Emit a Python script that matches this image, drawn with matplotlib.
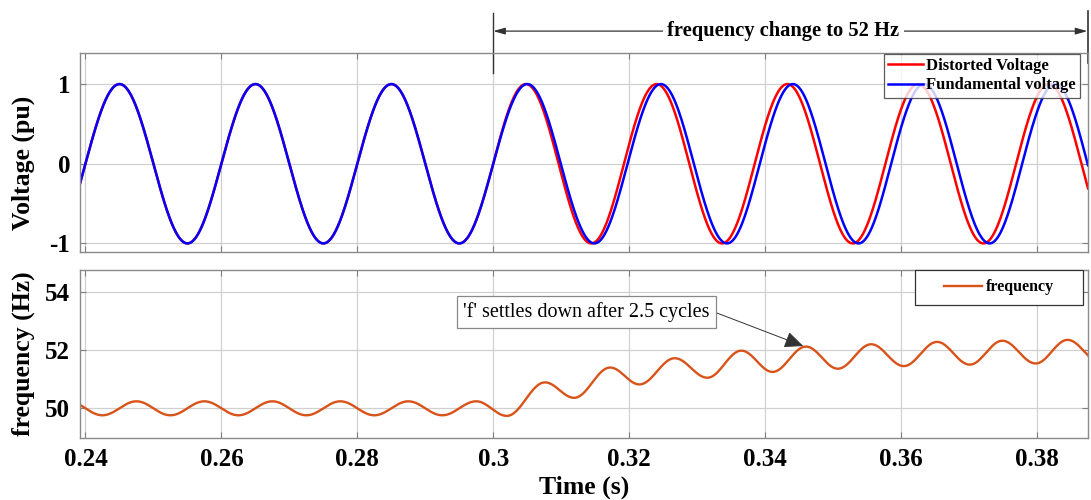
import numpy as np
import matplotlib
matplotlib.use("Agg")
import matplotlib.pyplot as plt
from matplotlib import transforms
from matplotlib.patches import Rectangle

plt.rcParams['font.family'] = ['Liberation Serif', 'DejaVu Serif']
plt.rcParams['axes.unicode_minus'] = False

# supply frequency before / after the step
f_before = 50.0
f_after = 52.0
t_step = 0.3

# estimated frequency: times and values of successive peaks / troughs
est_t = [0.2375, 0.2425, 0.2475, 0.2525, 0.2575, 0.2625, 0.2675, 0.2725,
         0.2775, 0.2825, 0.2875, 0.2925, 0.2975, 0.3020, 0.3076, 0.3119,
         0.3172, 0.3215, 0.3267, 0.3315, 0.3365, 0.3411, 0.3460, 0.3507,
         0.3556, 0.3604, 0.3653, 0.3701, 0.3749, 0.3798, 0.3845, 0.3893]
est_f = [50.24, 49.76, 50.24, 49.76, 50.24, 49.76, 50.24, 49.76,
         50.24, 49.76, 50.24, 49.76, 50.24, 49.74, 50.89, 50.36,
         51.40, 50.82, 51.72, 51.05, 51.98, 51.25, 52.12, 51.36,
         52.20, 51.45, 52.28, 51.50, 52.32, 51.54, 52.35, 51.58]

xticks = [0.24, 0.26, 0.28, 0.30, 0.32, 0.34, 0.36, 0.38]
xtick_labels = ['0.24', '0.26', '0.28', '0.3', '0.32', '0.34', '0.36', '0.38']
v_ticks = [-1, 0, 1]
v_tick_labels = ['-1', '0', '1']
f_ticks = [50, 52, 54]
f_tick_labels = ['50', '52', '54']

t_lo, t_hi = 0.2392, 0.3875
t = np.linspace(t_lo, t_hi, 4000)


def smooth_extrema(tt, xs, ys):
    # half-cosine segments between successive extrema
    xs = np.asarray(xs)
    ys = np.asarray(ys)
    i = np.clip(np.searchsorted(xs, tt) - 1, 0, len(xs) - 2)
    u = (tt - xs[i]) / (xs[i + 1] - xs[i])
    w = (1 - np.cos(np.pi * u)) / 2
    return ys[i] + (ys[i + 1] - ys[i]) * w


freq = smooth_extrema(t, est_t, est_f)

# distorted voltage follows the actual supply frequency
cycles_src = np.where(t < t_step, f_before * t,
                      f_before * t_step + f_after * (t - t_step))
v_dist = np.sin(2 * np.pi * cycles_src)

# fundamental is rebuilt from the estimated frequency
dt = np.diff(t)
cycles_est = f_before * t[0] + np.concatenate(
    [[0], np.cumsum(0.5 * (freq[1:] + freq[:-1]) * dt)])
v_fund = np.sin(2 * np.pi * cycles_est)

W, H = 1091, 500
fig = plt.figure(figsize=(W / 100, H / 100), dpi=100)
ax1 = fig.add_axes([80 / W, (H - 252) / H, 1008 / W, 199 / H])
ax2 = fig.add_axes([80 / W, (H - 438) / H, 1008 / W, 168 / H])

ax1.plot(t, v_dist, color='#ff0000', lw=1.8, label='Distorted Voltage')
ax1.plot(t, v_fund, color='#0000ff', lw=1.8, label='Fundamental voltage')
ax2.plot(t, freq, color='#d95319', lw=1.7, label='frequency')

tick_font = dict(fontsize=18, fontweight='bold')
for ax in (ax1, ax2):
    ax.set_xlim(t_lo, t_hi)
    ax.set_xticks(xticks)
    ax.grid(True, color='#d0d0d0', lw=0.9)
    ax.set_axisbelow(True)
    ax.tick_params(direction='in', length=4, color='#808080', pad=7,
                   top=True, right=True)
    for s in ax.spines.values():
        s.set_color('#8a8a8a')
        s.set_linewidth(1.0)

ax1.set_ylim(-1.108, 1.39)
ax1.set_yticks(v_ticks)
ax1.set_yticklabels(v_tick_labels, **tick_font)
ax1.set_xticklabels([])
ax1.set_ylabel('Voltage (pu)', fontsize=18.5, fontweight='bold')
ax1.yaxis.set_label_coords(-0.045, 0.45)

ax2.set_ylim(48.98, 54.75)
ax2.set_yticks(f_ticks)
ax2.set_yticklabels(f_tick_labels, **tick_font)
ax2.set_xticklabels(xtick_labels, **tick_font)
ax2.set_ylabel('frequency (Hz)', fontsize=18.5, fontweight='bold')
ax2.yaxis.set_label_coords(-0.045, 0.5)
ax2.set_xlabel('Time (s)', fontsize=18.5, fontweight='bold')
ax2.xaxis.set_label_coords(0.5, -0.225)

leg1 = ax1.legend(loc='upper right', bbox_to_anchor=(0.992, 0.995),
                  prop=dict(size=12, weight='bold'), frameon=True,
                  fancybox=False, borderaxespad=0, handlelength=2.1,
                  handletextpad=0.2, borderpad=0.25, labelspacing=0.2)
leg1.get_frame().set_edgecolor('#333333')
leg1.get_frame().set_linewidth(0.9)

# frequency legend sits in a wider box than its contents
ax2.add_patch(Rectangle((0.828, 0.792), 0.167, 0.208, transform=ax2.transAxes,
                        facecolor='white', edgecolor='#333333', lw=0.9,
                        zorder=4, clip_on=False))
leg2 = ax2.legend(loc='center', bbox_to_anchor=(0.9115, 0.896),
                  prop=dict(size=11.5, weight='bold'), frameon=False,
                  borderaxespad=0, handlelength=2.4, handletextpad=0.2,
                  borderpad=0)
leg2.set_zorder(5)

# bracket marking the frequency step
mix = transforms.blended_transform_factory(ax1.transData, ax1.transAxes)
ax1.plot([t_step, t_step], [0.9, 1.2], color='#333333', lw=1.0,
         transform=mix, clip_on=False)
ax1.plot([0.38745, 0.38745], [0.95, 1.21], color='#333333', lw=1.2,
         transform=mix, clip_on=False)
ax1.annotate('', xy=(t_step, 1.11), xytext=(0.3874, 1.11),
             xycoords=mix, textcoords=mix,
             arrowprops=dict(arrowstyle='<|-|>,head_length=0.7,head_width=0.2',
                             color='#333333', lw=0.9, shrinkA=0, shrinkB=0))
ax1.text(0.3427, 1.11, 'frequency change to 52 Hz',
         transform=mix, ha='center', va='center', fontsize=14.8,
         fontweight='bold',
         bbox=dict(facecolor='white', edgecolor='none', pad=3))

ax2.annotate("'f' settles down after 2.5 cycles", xy=(0.3458, 52.12),
             xytext=(0.3137, 53.3), fontsize=14.5, ha='center',
             va='center',
             bbox=dict(boxstyle='square,pad=0.3', facecolor='white',
                       edgecolor='#888888', lw=0.9),
             arrowprops=dict(arrowstyle='-|>,head_length=0.8,head_width=0.35',
                             color='#333333', lw=0.7, shrinkA=0, shrinkB=1,
                             relpos=(1.0, 0.6)))

fig.savefig('out.png', dpi=100)
